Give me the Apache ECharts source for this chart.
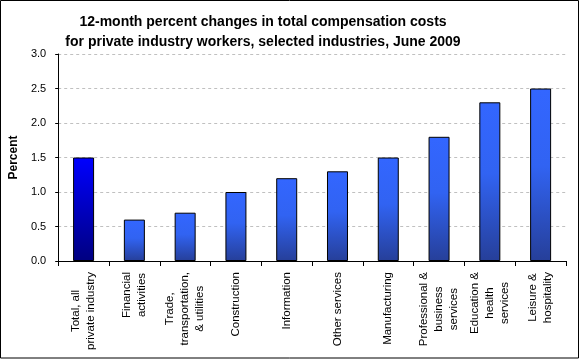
<!DOCTYPE html>
<html>
<head>
<meta charset="utf-8">
<script src="https://cdn.jsdelivr.net/npm/echarts@6/dist/echarts.min.js"></script>
<style>html,body{margin:0;padding:0;background:#fff}#c{width:580px;height:360px}</style>
</head>
<body>
<div id="c"></div>
<script>
var titleLines = ['12-month percent changes in total compensation costs', 'for private industry workers, selected industries, June 2009'];
var yAxisName = 'Percent';
var categories = [
  'Total, all\nprivate industry',
  'Financial\nactivities',
  'Trade,\ntransportation,\n& utilities',
  'Construction',
  'Information',
  'Other services',
  'Manufacturing',
  'Professional &\nbusiness\nservices',
  'Education &\nhealth\nservices',
  'Leisure &\nhospitality'
];
var values = [1.5, 0.6, 0.7, 1.0, 1.2, 1.3, 1.5, 1.8, 2.3, 2.5];
var yTicks = [0.0, 0.5, 1.0, 1.5, 2.0, 2.5, 3.0];

var font = 'Arial, "Liberation Sans", sans-serif';
var totalGrad = new echarts.graphic.LinearGradient(0, 0, 0, 1, [
  {offset: 0, color: '#0000ff'}, {offset: 1, color: '#000080'}]);
var indGrad = new echarts.graphic.LinearGradient(0, 0, 0, 1, [
  {offset: 0, color: '#3366ff'}, {offset: 0.45, color: '#3163f2'}, {offset: 1, color: '#263f99'}]);

var chart = echarts.init(document.getElementById('c'), null, {renderer: 'canvas'});
chart.setOption({
  animation: false,
  backgroundColor: '#fff',
  title: {
    text: titleLines.join('\n'),
    left: 258, top: 7, textAlign: 'center',
    textStyle: {fontFamily: font, fontSize: 14, fontWeight: 'bold', color: '#000', lineHeight: 20}
  },
  graphic: [{
    type: 'rect', shape: {x: 0.5, y: 0.5, width: 578, height: 357.5},
    style: {fill: 'none', stroke: '#000', lineWidth: 1}, silent: true, z: 100
  }],
  grid: {left: 56, right: 14, top: 54, bottom: 99, containLabel: false},
  xAxis: {
    type: 'category', data: categories,
    axisLine: {lineStyle: {color: '#000', width: 1}},
    axisTick: {show: true, alignWithLabel: false, length: 5, lineStyle: {color: '#000'}},
    axisLabel: {
      rotate: 90, margin: 11, interval: 0, color: '#000',
      fontFamily: font, fontSize: 11.5, lineHeight: 15,
      formatter: function (v) { return v.split('\n').map(function (s) { return '{c|' + s + '}'; }).join('\n'); },
      rich: {c: {align: 'center', fontFamily: font, fontSize: 11.5, lineHeight: 15, color: '#000'}}
    }
  },
  yAxis: {
    type: 'value', min: yTicks[0], max: yTicks[yTicks.length - 1], interval: 0.5,
    name: yAxisName, nameLocation: 'middle', nameGap: 35, nameRotate: 90,
    nameTextStyle: {fontFamily: font, fontSize: 12, fontWeight: 'bold', color: '#000'},
    axisLine: {show: true, lineStyle: {color: '#000'}},
    axisTick: {show: true, length: 3, lineStyle: {color: '#000'}},
    axisLabel: {margin: 12, color: '#000', fontFamily: font, fontSize: 11,
      formatter: function (v) { return v.toFixed(1); }},
    splitLine: {show: true, lineStyle: {color: '#c0c0c0', type: [3, 3], width: 1}}
  },
  series: [{
    type: 'bar', data: values.map(function (v, i) {
      return {value: v, itemStyle: {color: i === 0 ? totalGrad : indGrad}};
    }),
    barWidth: 21,
    itemStyle: {borderColor: '#000', borderWidth: 1}
  }]
});
</script>
</body>
</html>
